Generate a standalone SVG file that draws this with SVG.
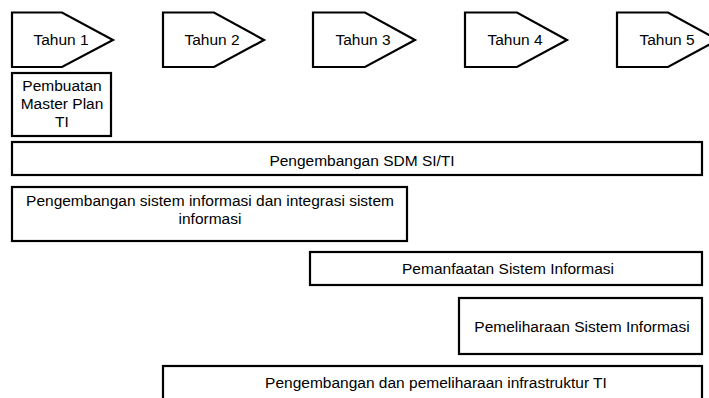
<svg xmlns="http://www.w3.org/2000/svg" width="709" height="398" viewBox="0 0 709 398">
<style>
.s{fill:#fff;stroke:#000;stroke-width:2.2;stroke-linejoin:miter}
.t{font-family:"Liberation Sans",Arial,sans-serif;font-size:15.5px;fill:#000;text-anchor:middle}
</style>
<rect width="709" height="398" fill="#fff"/>
<g id="tahun1"><polygon class="s" points="12,12.5 62,12.5 113,40 62,67 12,67"/><text class="t" x="61" y="45">Tahun 1</text></g>
<g id="tahun2"><polygon class="s" points="163,12.5 214,12.5 264,40 214,67 163,67"/><text class="t" x="212" y="45">Tahun 2</text></g>
<g id="tahun3"><polygon class="s" points="313,12.5 365,12.5 415,40 365,67 313,67"/><text class="t" x="363" y="45">Tahun 3</text></g>
<g id="tahun4"><polygon class="s" points="465,12.5 517,12.5 567,40 517,67 465,67"/><text class="t" x="515" y="45">Tahun 4</text></g>
<g id="tahun5"><polygon class="s" points="617,12.5 668,12.5 718,40 668,67 617,67"/><text class="t" x="667" y="45">Tahun 5</text></g>
<g id="masterplan"><rect class="s" x="12" y="73" width="99" height="63"/><text class="t" x="62" y="91">Pembuatan</text><text class="t" x="62" y="109">Master Plan</text><text class="t" x="62" y="127">TI</text></g>
<g id="sdm"><rect class="s" x="12" y="142" width="690" height="33"/><text class="t" x="362" y="166">Pengembangan SDM SI/TI</text></g>
<g id="pengembangan-si"><rect class="s" x="12" y="187" width="395" height="54"/><text class="t" x="210" y="206">Pengembangan sistem informasi dan integrasi sistem</text><text class="t" x="210" y="224">informasi</text></g>
<g id="pemanfaatan"><rect class="s" x="310" y="252" width="392" height="33"/><text class="t" x="508" y="274">Pemanfaatan Sistem Informasi</text></g>
<g id="pemeliharaan"><rect class="s" x="459" y="298" width="243" height="56"/><text class="t" x="582" y="332">Pemeliharaan Sistem Informasi</text></g>
<g id="infrastruktur"><rect class="s" x="163" y="366" width="539" height="50"/><text class="t" x="436" y="388">Pengembangan dan pemeliharaan infrastruktur TI</text></g>
<g id="connectors"></g>
</svg>
